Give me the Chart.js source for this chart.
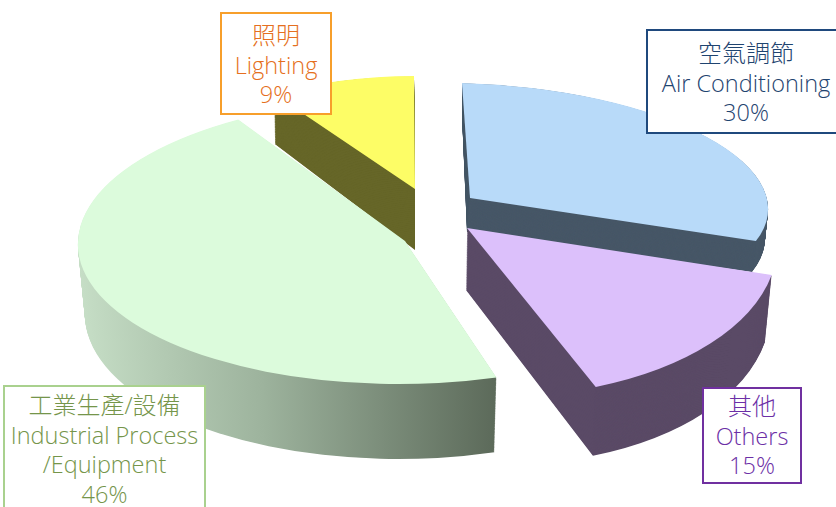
<!DOCTYPE html>
<html>
<head>
<meta charset="utf-8">
<title>Energy use</title>
<script src="https://cdn.jsdelivr.net/npm/chart.js@4"></script>
<style>
  html, body { margin: 0; padding: 0; background: #fff; overflow: hidden; }
  #wrap { position: relative; width: 836px; height: 507px; overflow: hidden; }
  canvas { position: absolute; left: 0; top: 0; }
  .tag {
    position: absolute; box-sizing: border-box; background: #fff; text-align: center;
    font-family: "Open Sans", "Noto Sans CJK TC", sans-serif; font-weight: 300;
    font-size: 23.5px; line-height: 29.5px; border-style: solid; border-width: 2px; white-space: nowrap;
  }
  .tag b { font-weight: 300; font-size: 24px; }
</style>
</head>
<body>
<div id="wrap"><canvas id="pie" width="836" height="507"></canvas></div>
<script>
var zhNames = ["空氣調節", "其他", "工業生產/設備", "照明"];
var enNames = [["Air Conditioning"], ["Others"], ["Industrial Process", "/Equipment"], ["Lighting"]];
var shares = [30, 15, 46, 9];

var topColors = ["#b8daf9", "#dcc0fb", "#dcfbdc", "#fdfd66"];
var sideColors = ["#475767", "#5a4a66", null, "#666628"];
var tagColors = ["#1f4470", "#6c2fa6", "#75954a", "#e56f20"];
var tagBorders = ["#1f497d", "#7030a0", "#a9d18e", "#f79f2b"];
var tagBoxes = [[646, 29, 200, 105], [702, 387, 100, 97], [3, 385, 203, 130], [220, 12, 112, 103]];
var tagPads = [7, 2, 3, 6];

// the picture is a tilted perspective view, so each slice gets its own
// unit disc -> screen map: [ax, bx, ay, by, ox, oy] for its top and bottom face
var topViews = [
  [298, 8, 7.9, 115, 470, 198],
  [309, 35, -5.5, 169, 467, 228],
  [327, -10, 1.5, 143, 405, 241],
  [261.5, 1, -0.7, 113, 415, 189]
];
var bottomViews = [
  [298, 5, 4, 117, 467, 232],
  [303, 35, -2.2, 175, 466, 290],
  [320, -10, 1.5, 148, 405, 311],
  [260, 1, 19.8, 113, 415, 250]
];
var paintOrder = [3, 0, 1, 2];
var depthSteps = 90;

function applyView(ctx, el, view) {
  var r = el.outerRadius;
  var a = view[0] / r, c = view[1] / r, b = view[2] / r, d = view[3] / r;
  ctx.transform(a, b, c, d, view[4] - a * el.x - c * el.y, view[5] - b * el.x - d * el.y);
}

function mix(v1, v2, t) {
  return v1.map(function (n, i) { return n + (v2[i] - n) * t; });
}

var tiltedPie = {
  id: "tiltedPie",
  beforeDatasetDraw: function (chart) {
    var ctx = chart.ctx;
    var arcs = chart.getDatasetMeta(0).data;
    paintOrder.forEach(function (i) {
      var el = arcs[i];
      var opts = el.options;
      var side = sideColors[i];
      if (!side) {
        // industrial side fades from light on the left to dark on the right
        side = ctx.createLinearGradient(el.x - el.outerRadius, 0, el.x + el.outerRadius * 0.31, 0);
        side.addColorStop(0, "#c6dec6");
        side.addColorStop(0.45, "#9db39d");
        side.addColorStop(1, "#5c6a5a");
      }
      for (var s = depthSteps; s >= 0; s--) {
        var color = s === 0 ? topColors[i] : side;
        el.options = Object.assign({}, opts, { backgroundColor: color, borderWidth: 0 });
        ctx.save();
        applyView(ctx, el, mix(topViews[i], bottomViews[i], s / depthSteps));
        el.draw(ctx);
        ctx.restore();
      }
      el.options = opts;
    });
    return false;
  }
};

new Chart("pie", {
  type: "pie",
  data: {
    labels: enNames.map(function (n) { return n.join(" "); }),
    datasets: [{ data: shares, backgroundColor: topColors, borderWidth: 0 }]
  },
  options: {
    responsive: false,
    animation: false,
    plugins: { legend: { display: false }, tooltip: { enabled: false } }
  },
  plugins: [tiltedPie]
});

var wrap = document.getElementById("wrap");
zhNames.forEach(function (zh, i) {
  var box = tagBoxes[i];
  var tag = document.createElement("div");
  tag.className = "tag";
  tag.style.cssText = "left:" + box[0] + "px;top:" + box[1] + "px;width:" + box[2] + "px;height:" + box[3] + "px;padding-top:" + tagPads[i] + "px;color:" + tagColors[i] + ";border-color:" + tagBorders[i];
  tag.innerHTML = ["<b>" + zh + "</b>"].concat(enNames[i], shares[i] + "%").join("<br>");
  wrap.appendChild(tag);
});
</script>
</body>
</html>
